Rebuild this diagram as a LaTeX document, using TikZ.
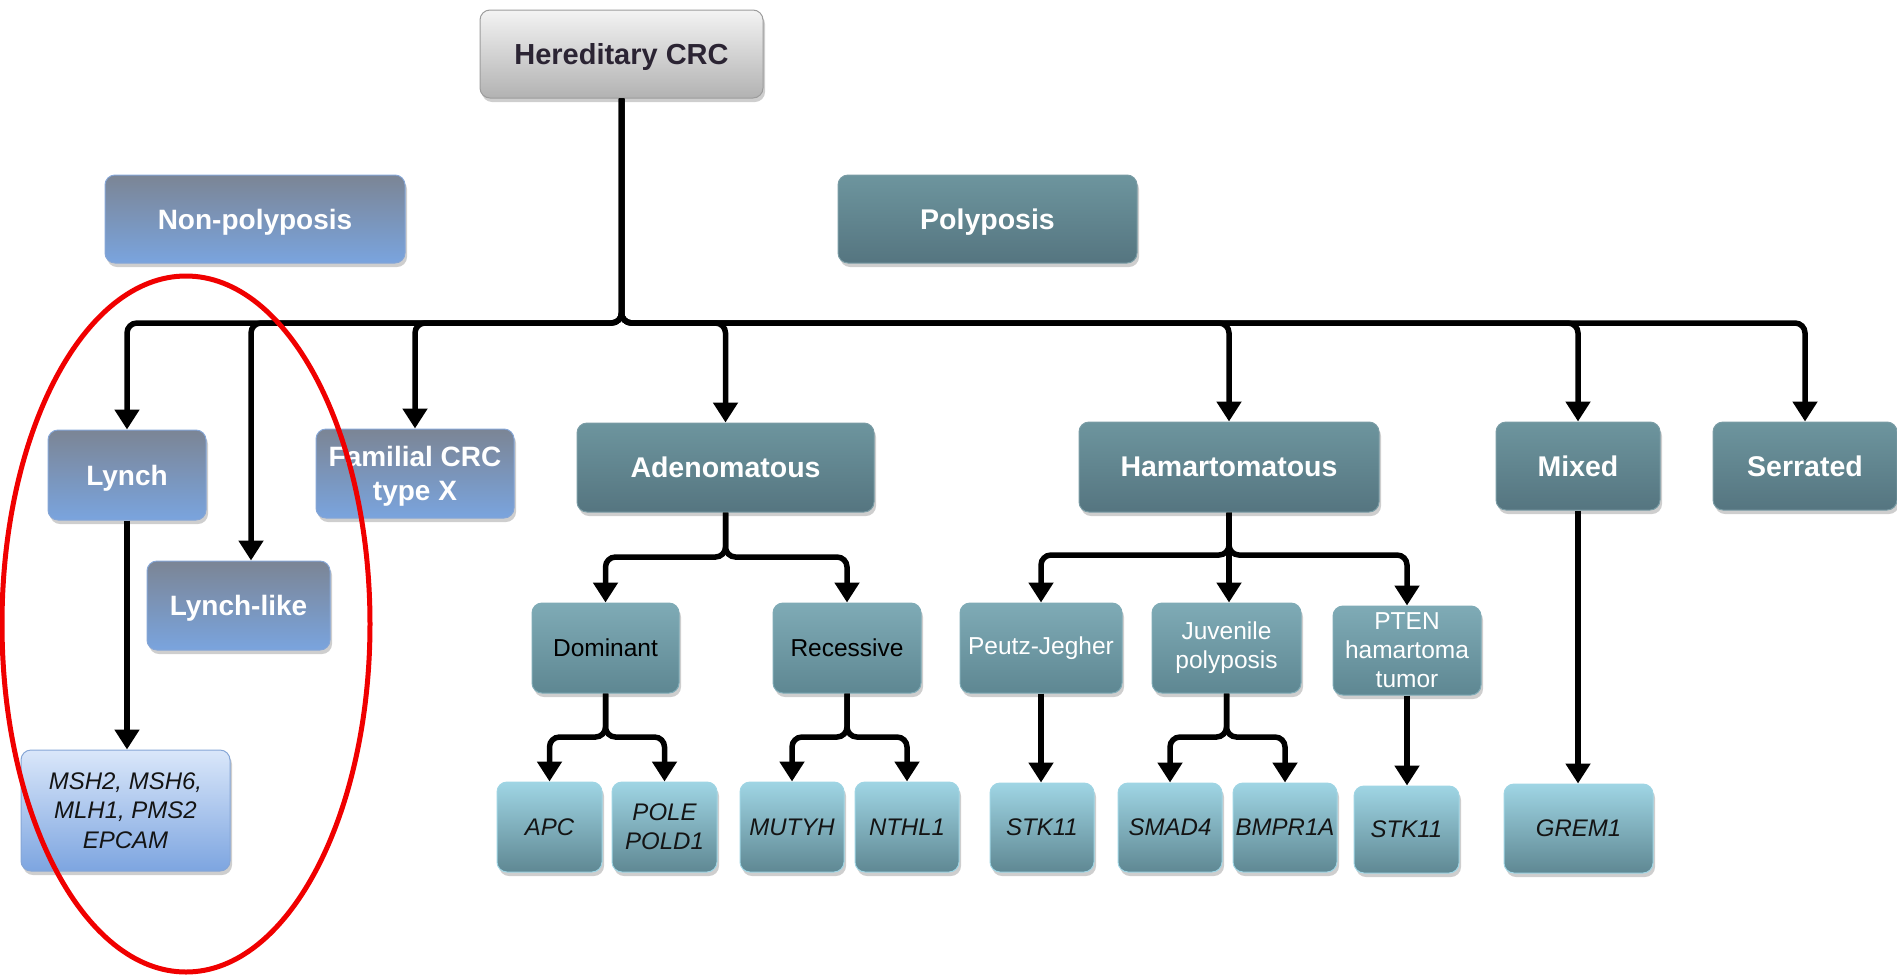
\documentclass[tikz,border=0pt]{standalone}
\usepackage{fontspec}
\setmainfont{Liberation Sans}
\usetikzlibrary{arrows.meta,shadows}
\definecolor{herTop}{HTML}{F3F3F3}
\definecolor{herBot}{HTML}{B2B2B2}
\definecolor{herLine}{HTML}{9C9C9C}
\definecolor{herText}{HTML}{2B2433}
\definecolor{npTop}{HTML}{7B8595}
\definecolor{npBot}{HTML}{7AA4DE}
\definecolor{npLine}{HTML}{86A6D6}
\definecolor{mshTop}{HTML}{DAE7FA}
\definecolor{mshBot}{HTML}{7DA5E0}
\definecolor{polTop}{HTML}{6D959E}
\definecolor{polBot}{HTML}{557580}
\definecolor{polLine}{HTML}{7A9CA5}
\definecolor{secTop}{HTML}{7FABB6}
\definecolor{secBot}{HTML}{5E8792}
\definecolor{geneTop}{HTML}{9FD5E4}
\definecolor{geneBot}{HTML}{5F8893}
\definecolor{geneText}{HTML}{141414}
\definecolor{ringRed}{HTML}{F00000}
\tikzset{
  box/.style={rounded corners=10pt, inner sep=0pt, align=center, line width=1pt,
    drop shadow={shadow xshift=2pt, shadow yshift=-4pt, opacity=0.35, fill=black!55}},
  herbox/.style={box, top color=herTop, bottom color=herBot, draw=herLine, text=herText,
    text depth=0pt, font=\fontsize{29}{34}\selectfont\bfseries},
  npbox/.style={box, top color=npTop, bottom color=npBot, draw=npLine, text=white,
    text depth=0pt, font=\fontsize{28}{34}\selectfont\bfseries},
  mshbox/.style={box, top color=mshTop, bottom color=mshBot, draw=npLine, text=geneText,
    font=\fontsize{24}{29.5}\selectfont\itshape},
  polbox/.style={box, top color=polTop, bottom color=polBot, draw=polLine, text=white,
    text depth=0pt, font=\fontsize{28.5}{34}\selectfont\bfseries},
  secbox/.style={box, top color=secTop, bottom color=secBot, draw=secTop, text=white,
    font=\fontsize{24.5}{29}\selectfont},
  secdark/.style={secbox, text=black},
  genebox/.style={box, top color=geneTop, bottom color=geneBot, draw=geneTop, text=geneText,
    font=\fontsize{24}{29}\selectfont\itshape},
  conn/.style={line width=5.5pt, rounded corners=10pt, -{Triangle[width=24pt,length=20pt]}},
}
\begin{document}
\begin{tikzpicture}[x=1pt, y=-1pt]
\useasboundingbox (0,0) rectangle (1897,975);

% top level
\node[herbox, minimum width=283pt, minimum height=88pt] (her) at (621.5,54) {Hereditary CRC};
\node[npbox, minimum width=300pt, minimum height=88pt] (nonp) at (255,219) {Non-polyposis};
\node[polbox, minimum width=299pt, minimum height=88pt] (pol) at (987.5,219) {Polyposis};

% second level
\node[npbox, minimum width=158pt, minimum height=90pt] (lynch) at (127,475) {Lynch};
\node[npbox, minimum width=183pt, minimum height=89pt] (ll) at (238.5,605.5) {Lynch-like};
\node[npbox, minimum width=198pt, minimum height=89pt] (fam) at (415,473.5) {Familial CRC\\type X};
\node[polbox, minimum width=297pt, minimum height=89pt] (aden) at (725.5,467.5) {Adenomatous};
\node[polbox, minimum width=300pt, minimum height=90pt] (ham) at (1229,467) {Hamartomatous};
\node[polbox, minimum width=164pt, minimum height=88pt] (mixed) at (1578,466) {Mixed};
\node[polbox, minimum width=184pt, minimum height=88pt] (serr) at (1805,466) {Serrated};

% third level
\node[mshbox, minimum width=209pt, minimum height=121pt] (msh) at (125.5,810.5) {MSH2, MSH6,\\MLH1, PMS2\\EPCAM};
\node[secdark, minimum width=147pt, minimum height=90pt] (dom) at (605.5,648) {Dominant};
\node[secdark, minimum width=148pt, minimum height=90pt] (rec) at (847,648) {Recessive};
\node[secbox, minimum width=162pt, minimum height=90pt] (peutz) at (1041,648) {Peutz-Jegher};
\node[secbox, minimum width=149pt, minimum height=90pt] (juv) at (1226.5,648) {Juvenile\\polyposis};
\node[secbox, minimum width=148pt, minimum height=89pt] (pten) at (1407,650.5) {PTEN\\hamartoma\\tumor};

% genes
\node[genebox, minimum width=105pt, minimum height=90pt] (apc) at (549.5,827) {APC};
\node[genebox, minimum width=105pt, minimum height=90pt] (pole) at (664.5,827) {POLE\\POLD1};
\node[genebox, minimum width=104pt, minimum height=90pt] (mutyh) at (792,827) {MUTYH};
\node[genebox, minimum width=104pt, minimum height=90pt] (nthl) at (907,827) {NTHL1};
\node[genebox, minimum width=104pt, minimum height=89pt] (stka) at (1042,827.5) {STK11};
\node[genebox, minimum width=104pt, minimum height=89pt] (smad) at (1170,827.5) {SMAD4};
\node[genebox, minimum width=104pt, minimum height=89pt] (bmpr) at (1285,827.5) {BMPR1A};
\node[genebox, minimum width=105pt, minimum height=87pt] (stkb) at (1406.5,829.5) {STK11};
\node[genebox, minimum width=149pt, minimum height=89pt] (grem) at (1578.5,828.5) {GREM1};

% main tree
\coordinate (bus) at (her.south |- 0,323);
\coordinate (lltop) at ([xshift=12.5pt]ll.north);
\draw[conn] (her.south) -- (bus) -| (lynch.north);
\draw[conn] (her.south) -- (bus) -| (lltop);
\draw[conn] (her.south) -- (bus) -| (fam.north);
\draw[conn] (her.south) -- (bus) -| (aden.north);
\draw[conn] (her.south) -- (bus) -| (ham.north);
\draw[conn] (her.south) -- (bus) -| (mixed.north);
\draw[conn] (her.south) -- (bus) -| (serr.north);

% Lynch
\draw[conn] (lynch.south) -- (lynch.south |- msh.north);

% Adenomatous
\coordinate (afork) at (aden.south |- 0,557);
\draw[conn] (aden.south) -- (afork) -| (dom.north);
\draw[conn] (aden.south) -- (afork) -| (rec.north);
\coordinate (dfork) at (dom.south |- 0,737);
\draw[conn] (dom.south) -- (dfork) -| (apc.north);
\draw[conn] (dom.south) -- (dfork) -| (pole.north);
\coordinate (rfork) at (rec.south |- 0,737);
\draw[conn] (rec.south) -- (rfork) -| (mutyh.north);
\draw[conn] (rec.south) -- (rfork) -| (nthl.north);

% Hamartomatous
\coordinate (hfork) at (ham.south |- 0,555);
\draw[conn] (ham.south) -- (hfork) -| (peutz.north);
\draw[conn] (ham.south) -- (ham.south |- juv.north);
\draw[conn] (ham.south) -- (hfork) -| (pten.north);
\draw[conn] (peutz.south) -- (peutz.south |- stka.north);
\coordinate (jfork) at (juv.south |- 0,737);
\draw[conn] (juv.south) -- (jfork) -| (smad.north);
\draw[conn] (juv.south) -- (jfork) -| (bmpr.north);
\draw[conn] (pten.south) -- (pten.south |- stkb.north);

% Mixed
\draw[conn] (mixed.south) -- (mixed.south |- grem.north);

% red ring
\draw[ringRed, line width=5pt] (186,624) ellipse [x radius=184pt, y radius=348pt];
\end{tikzpicture}
\end{document}
